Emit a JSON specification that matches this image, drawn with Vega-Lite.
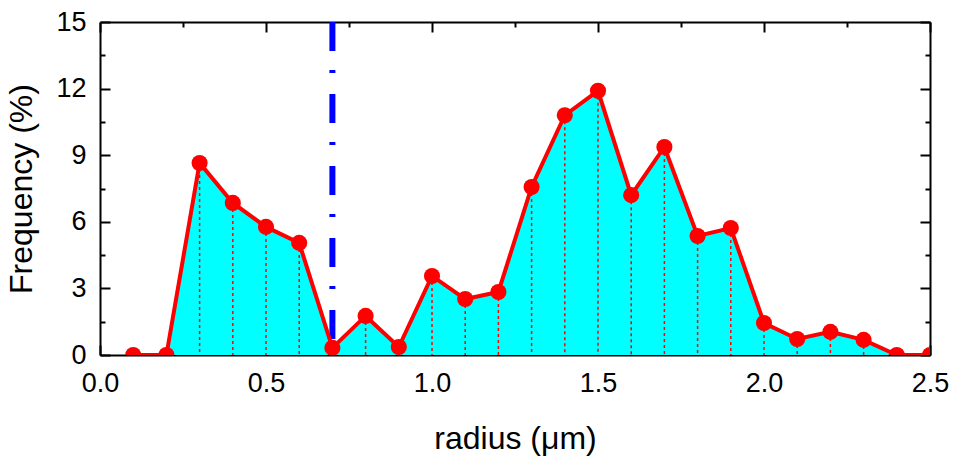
{
  "$schema": "https://vega.github.io/schema/vega-lite/v6.json",
  "width": 830,
  "height": 333,
  "autosize": {"type": "none"},
  "padding": {"left": 100, "top": 22, "right": 23, "bottom": 106},
  "config": {
    "view": {"stroke": null},
    "font": "Liberation Sans"
  },
  "datasets": {
    "freq": [
      {"r": 0.1, "f": 0},
      {"r": 0.2, "f": 0},
      {"r": 0.3, "f": 8.65},
      {"r": 0.4, "f": 6.85},
      {"r": 0.5, "f": 5.77},
      {"r": 0.6, "f": 5.05},
      {"r": 0.7, "f": 0.32},
      {"r": 0.8, "f": 1.76},
      {"r": 0.9, "f": 0.36},
      {"r": 1.0, "f": 3.56},
      {"r": 1.1, "f": 2.52},
      {"r": 1.2, "f": 2.84},
      {"r": 1.3, "f": 7.57},
      {"r": 1.4, "f": 10.8},
      {"r": 1.5, "f": 11.9},
      {"r": 1.6, "f": 7.2},
      {"r": 1.7, "f": 9.37},
      {"r": 1.8, "f": 5.36},
      {"r": 1.9, "f": 5.72},
      {"r": 2.0, "f": 1.44},
      {"r": 2.1, "f": 0.72},
      {"r": 2.2, "f": 1.04},
      {"r": 2.3, "f": 0.68},
      {"r": 2.4, "f": 0},
      {"r": 2.5, "f": 0}
    ],
    "marker": [{"r": 0.7, "top": 15, "bottom": 0}]
  },
  "layer": [
    {
      "data": {"name": "freq"},
      "mark": {"type": "area", "color": "#00FFFF", "clip": true},
      "encoding": {
        "x": {
          "field": "r", "type": "quantitative",
          "scale": {"domain": [0, 2.5], "nice": false, "zero": false},
          "axis": {
            "orient": "bottom",
            "title": "radius (μm)",
            "grid": false,
            "domainColor": "black", "domainWidth": 2,
            "tickColor": "black", "tickWidth": 2,
            "values": [0, 0.25, 0.5, 0.75, 1, 1.25, 1.5, 1.75, 2, 2.25, 2.5],
            "tickSize": {"condition": {"test": "datum.value % 0.5 === 0", "value": -10}, "value": -5},
            "labelExpr": "datum.value % 0.5 === 0 ? format(datum.value, '.1f') : ''",
            "labelFont": "Liberation Sans", "labelFontSize": 27, "labelColor": "black",
            "labelPadding": 25,
            "labelFlush": false,
            "labelOverlap": false,
            "titleFont": "Liberation Sans", "titleFontSize": 32, "titleFontWeight": "normal", "titleColor": "black",
            "titlePadding": 22
          }
        },
        "y": {
          "field": "f", "type": "quantitative",
          "scale": {"domain": [0, 15], "nice": false},
          "axis": {
            "orient": "left",
            "title": "Frequency (%)",
            "grid": false,
            "domainColor": "black", "domainWidth": 2,
            "tickColor": "black", "tickWidth": 2,
            "values": [0, 1.5, 3, 4.5, 6, 7.5, 9, 10.5, 12, 13.5, 15],
            "tickSize": {"condition": {"test": "datum.value % 3 === 0", "value": -10}, "value": -5},
            "labelExpr": "datum.value % 3 === 0 ? format(datum.value, 'd') : ''",
            "labelFont": "Liberation Sans", "labelFontSize": 27, "labelColor": "black",
            "labelPadding": 24,
            "labelFlush": false,
            "labelOverlap": false,
            "titleFont": "Liberation Sans", "titleFontSize": 32, "titleFontWeight": "normal", "titleColor": "black",
            "titlePadding": 17
          }
        }
      }
    },
    {
      "data": {"name": "freq"},
      "mark": {"type": "rule", "color": "#FF0000", "strokeWidth": 1.5, "strokeDash": [3, 3], "clip": true},
      "encoding": {
        "x": {"field": "r", "type": "quantitative", "axis": null},
        "y": {"field": "f", "type": "quantitative", "axis": null},
        "y2": {"datum": 0}
      }
    },
    {
      "data": {"name": "marker"},
      "mark": {"type": "rule", "color": "#0000FF", "strokeWidth": 6, "strokeDash": [29, 19, 3, 21], "clip": true},
      "encoding": {
        "x": {"field": "r", "type": "quantitative", "axis": null},
        "y": {"field": "top", "type": "quantitative", "axis": null},
        "y2": {"field": "bottom"}
      }
    },
    {
      "data": {"name": "freq"},
      "mark": {"type": "line", "color": "#FF0000", "strokeWidth": 4, "clip": true},
      "encoding": {
        "x": {
          "field": "r", "type": "quantitative",
          "axis": {
            "orient": "top",
            "title": null,
            "labels": false,
            "grid": false,
            "domainColor": "black", "domainWidth": 2,
            "tickColor": "black", "tickWidth": 2,
            "values": [0, 0.25, 0.5, 0.75, 1, 1.25, 1.5, 1.75, 2, 2.25, 2.5],
            "tickSize": {"condition": {"test": "datum.value % 0.5 === 0", "value": -10}, "value": -5}
          }
        },
        "y": {
          "field": "f", "type": "quantitative",
          "axis": {
            "orient": "right",
            "title": null,
            "labels": false,
            "grid": false,
            "domainColor": "black", "domainWidth": 2,
            "tickColor": "black", "tickWidth": 2,
            "values": [0, 1.5, 3, 4.5, 6, 7.5, 9, 10.5, 12, 13.5, 15],
            "tickSize": {"condition": {"test": "datum.value % 3 === 0", "value": -10}, "value": -5}
          }
        }
      }
    },
    {
      "data": {"name": "freq"},
      "mark": {"type": "point", "shape": "circle", "filled": true, "color": "#FF0000", "size": 260, "opacity": 1, "clip": true},
      "encoding": {
        "x": {"field": "r", "type": "quantitative", "axis": null},
        "y": {"field": "f", "type": "quantitative", "axis": null}
      }
    }
  ],
  "resolve": {"axis": {"x": "independent", "y": "independent"}}
}
